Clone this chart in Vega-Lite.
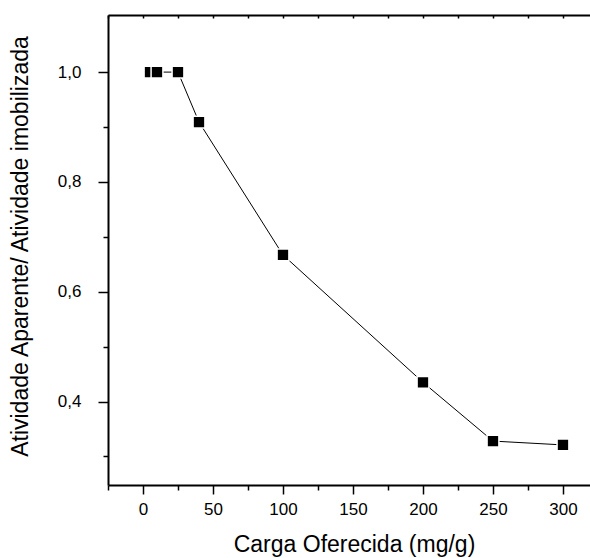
{
  "$schema": "https://vega.github.io/schema/vega-lite/v6.json",
  "autosize": "none",
  "padding": {"left": 108, "top": 15, "right": 0, "bottom": 73},
  "width": 482,
  "height": 470,
  "background": "white",
  "config": {
    "view": {"stroke": null},
    "axis": {"labelFont": "Liberation Sans", "titleFont": "Liberation Sans", "labelColor": "black", "titleColor": "black", "tickColor": "black", "domainColor": "black", "grid": false, "titleFontWeight": "normal"}
  },
  "data": {"values": [
    {"carga": 5, "ativ": 1.0},
    {"carga": 10, "ativ": 1.0},
    {"carga": 25, "ativ": 1.0},
    {"carga": 40, "ativ": 0.909},
    {"carga": 100, "ativ": 0.667},
    {"carga": 200, "ativ": 0.435},
    {"carga": 250, "ativ": 0.328},
    {"carga": 300, "ativ": 0.321}
  ]},
  "resolve": {"axis": {"x": "independent", "y": "independent"}},
  "layer": [
    {
      "mark": {"type": "line", "color": "black", "strokeWidth": 1},
      "encoding": {
        "x": {"field": "carga", "type": "quantitative",
          "scale": {"domain": [-25, 319.3], "nice": false, "zero": false},
          "axis": {"orient": "bottom", "values": [0, 50, 100, 150, 200, 250, 300], "tickSize": 9, "tickWidth": 1.5, "domainWidth": 2, "labelFontSize": 17, "labelPadding": 7, "title": "Carga Oferecida (mg/g)", "titleFontSize": 23, "titleY": 66, "titleX": 246, "titleBaseline": "alphabetic", "labelFlush": false}},
        "y": {"field": "ativ", "type": "quantitative",
          "scale": {"domain": [0.248, 1.104], "nice": false, "zero": false},
          "axis": {"orient": "left", "values": [0.4, 0.6, 0.8, 1.0], "tickSize": 10, "tickWidth": 1.5, "domainWidth": 2, "labelFontSize": 17, "labelPadding": 17, "labelExpr": "replace(format(datum.value, '.1f'), '.', ',')", "title": "Atividade Aparente/ Atividade imobilizada", "titleFontSize": 23, "titleX": -88, "titleY": 231, "titleBaseline": "middle", "labelFlush": false}}
      }
    },
    {
      "mark": {"type": "point", "shape": "square", "filled": true, "fill": "black", "stroke": "white", "strokeWidth": 1.5, "size": 140, "opacity": 1},
      "encoding": {
        "x": {"field": "carga", "type": "quantitative",
          "axis": {"orient": "bottom", "values": [-25, 25, 75, 125, 175, 225, 275], "tickSize": 5, "tickWidth": 1.5, "domain": false, "labels": false, "title": null}},
        "y": {"field": "ativ", "type": "quantitative",
          "axis": {"orient": "left", "values": [0.3, 0.5, 0.7, 0.9], "tickSize": 5, "tickWidth": 1.5, "domain": false, "labels": false, "title": null}}
      }
    },
    {
      "mark": {"type": "point", "opacity": 0},
      "encoding": {
        "x": {"field": "carga", "type": "quantitative",
          "axis": {"orient": "top", "values": [-25, 0, 25, 50, 75, 100, 125, 150, 175, 200, 225, 250, 275, 300], "tickSize": -3, "tickWidth": 1.5, "domainWidth": 2, "labels": false, "title": null}},
        "y": {"field": "ativ", "type": "quantitative", "axis": null}
      }
    }
  ]
}
